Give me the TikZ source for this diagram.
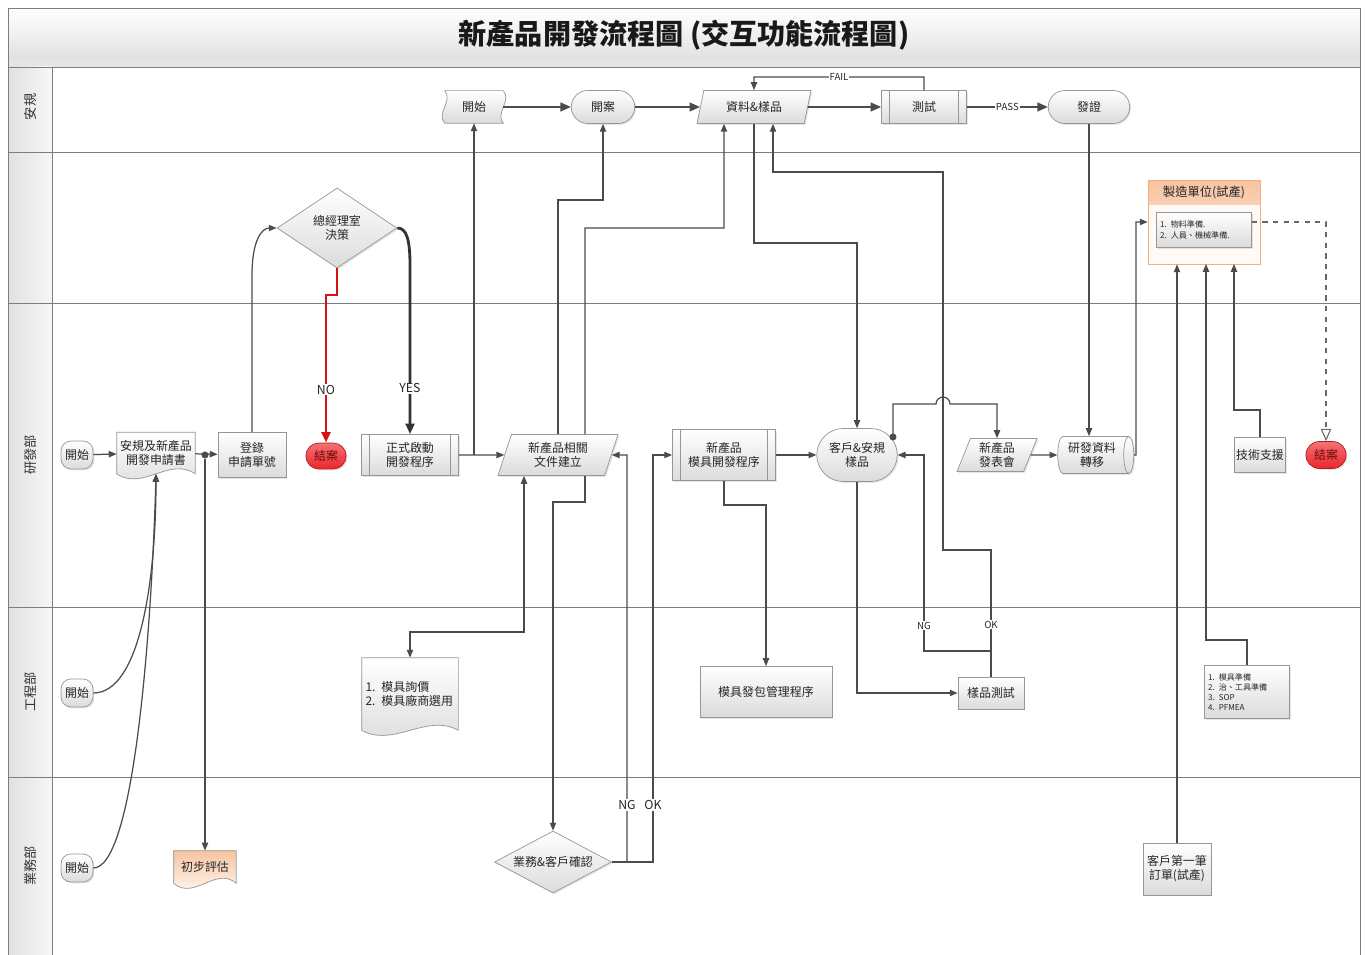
\documentclass[tikz,border=0pt]{standalone}
\usepackage{fontspec}
\setmainfont{Noto Sans CJK TC}
\usepackage{xcolor}
\usetikzlibrary{arrows.meta, shapes.geometric, shapes.misc, backgrounds, shadows, calc}
\definecolor{ink}{RGB}{75,75,75}
\definecolor{rim}{RGB}{150,150,150}
\definecolor{lane}{RGB}{125,125,125}
\definecolor{alarm}{RGB}{236,38,42}
\definecolor{alarmink}{RGB}{110,10,10}
\definecolor{peach}{RGB}{247,196,160}
\definecolor{peachrim}{RGB}{240,178,130}
\definecolor{nored}{RGB}{210,20,20}

\tikzset{
  txt/.style={font=\fontsize{6.8}{8}\selectfont, text=black!85, align=center},
  box/.style={txt, draw=rim, top color=white, bottom color=black!14, inner sep=1pt,
    drop shadow={shadow xshift=0.8pt, shadow yshift=-0.8pt, opacity=0.2}},
  procbox/.style={box, rectangle},
  predef/.style={box, rectangle, path picture={
      \draw[rim] ([xshift=4.5pt]path picture bounding box.north west) -- ([xshift=4.5pt]path picture bounding box.south west);
      \draw[rim] ([xshift=-4.5pt]path picture bounding box.north east) -- ([xshift=-4.5pt]path picture bounding box.south east);}},
  stadium/.style={box, rounded rectangle},
  startcap/.style={box, rectangle, rounded corners=0.2cm, minimum width=0.64cm, minimum height=0.56cm, inner sep=0pt},
  databox/.style={box, trapezium, trapezium left angle=65, trapezium right angle=115, trapezium stretches body=true},
  decide/.style={box, diamond, inner sep=0pt},
  storebox/.style={box, cylinder, shape aspect=0.35},
  endcap/.style={txt, rounded rectangle, draw=alarm!75!black, top color=alarm!65, bottom color=alarm, text=alarmink,
    drop shadow={shadow xshift=0.8pt, shadow yshift=-0.8pt, opacity=0.2}},
  docbox/.style={txt, rectangle, inner sep=1pt},
  tapebox/.style={txt, rectangle, inner sep=0pt},
  listbox/.style={box, align=left, font=\fontsize{4.6}{5.8}\selectfont, inner sep=2pt},
  mfgbox/.style={draw=peachrim, fill=orange!4, path picture={
      \shade[top color=peach, bottom color=peach!30] (path picture bounding box.north west) rectangle ([yshift=-0.5cm]path picture bounding box.north east);},
    drop shadow={shadow xshift=0.8pt, shadow yshift=-0.8pt, opacity=0.2}},
  dot/.style={circle, fill=ink, inner sep=0pt, minimum size=4pt},
  tag/.style={fill=white, inner sep=0.5pt, font=\fontsize{5.5}{6}\selectfont, text=black!85},
  bigtag/.style={tag, font=\fontsize{7}{8}\selectfont},
  flow/.style={draw=ink, line width=0.7pt, -{Triangle[length=4.5pt, width=3.6pt]}},
  flowboth/.style={flow, {Triangle[length=4.5pt, width=3.6pt]}-{Triangle[length=4.5pt, width=3.6pt]}},
  flowthick/.style={draw=ink, line width=1.1pt, -{Triangle[length=6pt, width=5pt]}},
  nopath/.style={draw=nored, line width=1.6pt, -{Triangle[length=6pt, width=5pt]}},
  yespath/.style={draw=black!80, line width=1.6pt, -{Triangle[length=6pt, width=5pt]}},
  dashflow/.style={draw=black!60, dashed, line width=0.6pt, -{Triangle[open, length=7pt, width=6pt]}}
}

\begin{document}
\begin{tikzpicture}[x=0.02cm, y=-0.02cm]
  \useasboundingbox (0,0) rectangle (1365,955);
  % frame and lanes
  \shade[top color=white, bottom color=black!12] (8,8) rectangle (1360,60);
  \draw[lane] (8,8) rectangle (1360,60);
  \fill[black!10] (8,60) rectangle (1360,67);
  \shade[left color=black!12, right color=black!3] (8,67) rectangle (52,955);
  \draw[lane] (8,67) -- (1360,67) (8,60) -- (8,955) (52,67) -- (52,955) (1360,60) -- (1360,955);
  \foreach \yy in {152,303,607,777}
    \draw[lane] (8,\yy) -- (1360,\yy);
  \foreach \yy/\dept in {107/安規, 455/研發部, 692/工程部, 866/業務部}
    \node[rotate=90, font=\fontsize{7.5}{9}\selectfont, text=black!80] (lane\yy) at (30,\yy) {\dept};
  \node[font=\fontsize{16}{18}\selectfont\bfseries, text=black!90] (title) at (684,35) {新產品開發流程圖 (交互功能流程圖)};

  % 安規
  \node[tapebox, minimum width=1.16cm, minimum height=0.64cm] (t_start) at (474,107) {開始};
  \node[stadium, minimum width=1.34cm, minimum height=0.66cm] (t_case) at (603,107) {開案};
  \node[databox, minimum width=2.28cm, minimum height=0.66cm] (t_data) at (754,107) {資料\&樣品};
  \node[predef, minimum width=1.7cm, minimum height=0.66cm] (t_test) at (924,107) {測試};
  \node[stadium, minimum width=1.7cm, minimum height=0.66cm] (t_cert) at (1089,107) {發證};

  % 研發部
  \node[startcap] (r_start) at (77,455) {開始};
  \node[docbox, minimum width=1.56cm, minimum height=0.82cm] (r_app) at (156,453) {安規及新產品\\開發申請書};
  \node[dot] (r_split) at (205,455) {};
  \node[procbox, minimum width=1.36cm, minimum height=0.9cm] (r_reg) at (252,455) {登錄\\申請單號};
  \node[endcap, minimum width=1.04cm, minimum height=0.52cm] (r_end) at (326,456) {結案};
  \node[decide, aspect=1.5, minimum width=2.4cm, minimum height=1.6cm] (r_gm) at (337,228) {總經理室\\決策};
  \node[predef, minimum width=1.94cm, minimum height=0.82cm] (r_launch) at (410,455) {正式啟動\\開發程序};
  \node[databox, minimum width=2.4cm, minimum height=0.82cm] (r_doc) at (558,455) {新產品相關\\文件建立};
  \node[predef, minimum width=2.06cm, minimum height=1.02cm] (r_mold) at (724,455) {新產品\\模具開發程序};
  \node[stadium, minimum width=1.68cm, minimum height=1.06cm] (r_sample) at (857,455) {客戶\&安規\\樣品};
  \node[dot] (r_tap) at (893,437) {};
  \node[databox, minimum width=1.6cm, minimum height=0.66cm] (r_show) at (997,455) {新產品\\發表會};
  \node[storebox, minimum width=0.74cm, minimum height=1.52cm] (r_trans) at (1092,455) {研發資料\\轉移};
  \node[procbox, minimum width=0.98cm, minimum height=0.7cm] (r_tech) at (1260,455) {技術支援};
  \node[endcap, minimum width=1.04cm, minimum height=0.54cm] (r_close) at (1326,455) {結案};

  \node[mfgbox, minimum width=2.24cm, minimum height=1.68cm] (mfg) at (1204,222) {};
  \node[txt, font=\fontsize{7}{8}\selectfont] (mfg_hd) at (1204,192) {製造單位(試產)};
  \node[listbox, text width=1.76cm, minimum height=0.7cm] (mfg_in) at (1204,230) {1. 物料準備.\\2. 人員、機械準備.};

  % 工程部
  \node[startcap] (e_start) at (77,693) {開始};
  \node[docbox, align=left, inner sep=2pt, text width=1.78cm, minimum height=1.44cm] (e_quote) at (410,694) {1. 模具詢價\\2. 模具廠商選用};
  \node[procbox, minimum width=2.64cm, minimum height=1.02cm] (e_pkg) at (766,692) {模具發包管理程序};
  \node[procbox, minimum width=1.32cm, minimum height=0.64cm] (e_test) at (991,693) {樣品測試};
  \node[listbox, text width=1.56cm, minimum height=1.06cm] (e_list) at (1247,692) {1. 模具準備\\2. 治、工具準備\\3. SOP\\4. PFMEA};

  % 業務部
  \node[startcap] (s_start) at (77,868) {開始};
  \node[docbox, minimum width=1.24cm, minimum height=0.64cm] (s_eval) at (205,867) {初步評估};
  \node[decide, aspect=1.9, minimum width=2.34cm, minimum height=1.24cm] (s_ok) at (553,862) {業務\&客戶確認};
  \node[procbox, minimum width=1.36cm, minimum height=1.04cm] (s_order) at (1177,869) {客戶第一筆\\訂單(試產)};

  % document and tape outlines
  \begin{pgfonlayer}{background}
    \foreach \n/\tc/\bc in {r_app/white/black!14, e_quote/white/black!14, s_eval/peach/white}
      \path[draw=rim, top color=\tc, bottom color=\bc] (\n.north west) -- (\n.north east) -- (\n.south east)
        .. controls ($(\n.south east)!0.33!(\n.south west)+(0pt,10pt)$) and ($(\n.south west)!0.33!(\n.south east)+(0pt,-10pt)$) .. (\n.south west) -- cycle;
    \path[draw=rim, top color=white, bottom color=black!14] (t_start.north west) -- (t_start.north east)
      .. controls +(5pt,-6pt) and +(-5pt,6pt) .. (t_start.south east) -- (t_start.south west)
      .. controls +(-5pt,6pt) and +(5pt,-6pt) .. (t_start.north west) -- cycle;
  \end{pgfonlayer}

  % 安規 connectors
  \draw[flowthick] (t_start) -- (t_case);
  \draw[flowthick] (t_case) -- (t_data);
  \draw[flowthick] (t_data) -- (t_test);
  \draw[flowthick] (t_test) -- node[tag]{PASS} (t_cert);
  \draw[flow] (t_test.north) |- node[tag, pos=0.75]{FAIL} (754,77) -- (t_data.north);

  % 研發部 connectors
  \draw[flow] (r_start) -- (r_app);
  \draw[flow] (r_app) -- (r_reg);
  \draw[flow] (r_split) -- (r_split |- s_eval.north);
  \draw[flow] (e_start.east) .. controls (140,693) and (156,580) .. (r_app.south);
  \draw[flow] (s_start.east) .. controls (135,868) and (152,620) .. (r_app.south);
  \draw[flow] (r_reg.north) -- (252,275) .. controls (252,240) and (262,228) .. (r_gm.west);
  \draw[nopath] (r_gm.south) -- (337,295) -| node[bigtag, pos=0.82]{NO} (r_end.north);
  \draw[yespath] (r_gm.east) .. controls (406,228) and (410,238) .. (410,265) -- node[bigtag, pos=0.73]{YES} (r_launch.north);
  \draw[flow] (r_launch) -- (r_doc);
  \draw[flow] (t_start.south |- r_launch.east) -- (t_start.south);
  \draw[flow] (r_doc.north) |- (603,200) -- (t_case.south);
  \draw[flow] ([xshift=0.54cm]r_doc.north) |- (724,228) -- ([xshift=-0.6cm]t_data.south);
  \draw[flow] ([xshift=0.54cm]r_doc.south) |- (553,502) -- (s_ok.north);
  \draw[flowboth] ([xshift=-0.68cm]r_doc.south) |- (410,632) -- (e_quote.north);
  \draw[flow] (s_ok.east) -| node[bigtag, pos=0.57]{NG} (627,455) -- (r_doc.east);
  \draw[flow] (s_ok.east) -| node[bigtag, pos=0.57]{OK} (653,455) -- (r_mold.west);
  \draw[flow] (r_mold) -- (r_sample);
  \draw[flow] (r_mold.south) |- (766,505) -- (e_pkg.north);
  \draw[flow] (t_data.south) |- (857,243) -- (r_sample.north);
  \draw[flow] (r_sample.south) |- (e_test.west);
  \draw[flow] (e_test.north) |- (924,651) -- node[tag, pos=0.13]{NG} (924,455) -- (r_sample.east);
  \draw[flow] (e_test.north) -- node[tag, pos=0.41]{OK} (991,550) -| (943,172) -| ([xshift=0.38cm]t_data.south);
  \draw[flow] (r_tap.center) |- (936,404) arc[start angle=180, end angle=0, radius=0.14cm] -| (r_show.north);
  \draw[flow] (r_show) -- (r_trans);
  \draw[flow] (t_cert.south) -- (t_cert.south |- r_trans.north);
  \draw[flow] (r_trans.east) -- (1136,455) |- (mfg.west);

  % 製造單位 inputs
  \draw[flow] (s_order.north) -- (s_order.north |- mfg.south);
  \draw[flow] (e_list.north) |- (1206,640) -- (1206,264);
  \draw[flow] (r_tech.north) |- (1234,410) -- (1234,264);
  \draw[dashflow] (mfg_in.east |- mfg.west) -| (r_close.north);
\end{tikzpicture}
\end{document}
